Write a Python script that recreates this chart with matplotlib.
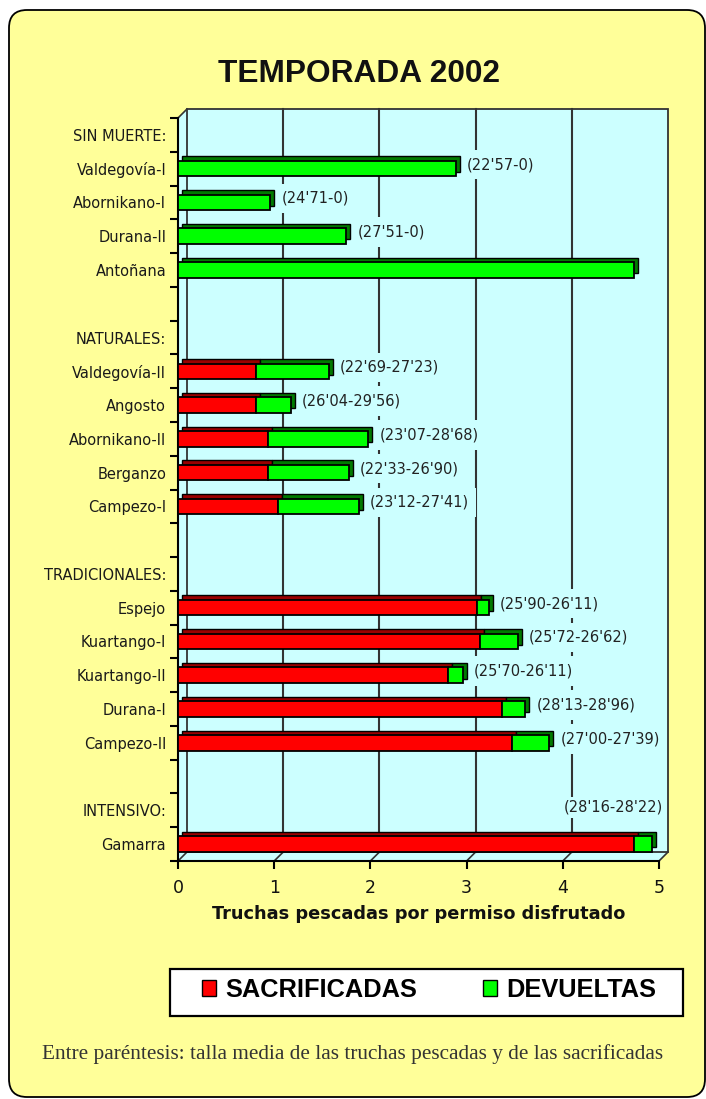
import numpy as np
import matplotlib.pyplot as plt
from matplotlib.patches import FancyBboxPatch, Rectangle, Polygon, Patch
from matplotlib.transforms import ScaledTranslation

# ---- datos ----
categorias = ["SIN MUERTE:", "Valdegovía-I", "Abornikano-I", "Durana-II", "Antoñana", "",
              "NATURALES:", "Valdegovía-II", "Angosto", "Abornikano-II", "Berganzo", "Campezo-I", "",
              "TRADICIONALES:", "Espejo", "Kuartango-I", "Kuartango-II", "Durana-I", "Campezo-II", "",
              "INTENSIVO:", "Gamarra"]
sacrificadas = [0, 0, 0, 0, 0, 0,
                0, 0.81, 0.81, 0.94, 0.94, 1.04, 0,
                0, 3.11, 3.14, 2.81, 3.37, 3.47, 0,
                0, 4.74]
devueltas = [0, 2.89, 0.96, 1.75, 4.74, 0,
             0, 0.76, 0.36, 1.04, 0.84, 0.84, 0,
             0, 0.12, 0.39, 0.15, 0.24, 0.39, 0,
             0, 0.19]
tallas = ["", "(22'57-0)", "(24'71-0)", "(27'51-0)", "", "",
          "", "(22'69-27'23)", "(26'04-29'56)", "(23'07-28'68)", "(22'33-26'90)", "(23'12-27'41)", "",
          "", "(25'90-26'11)", "(25'72-26'62)", "(25'70-26'11)", "(28'13-28'96)", "(27'00-27'39)", "",
          "", "(28'16-28'22)"]
ticks_x = [0, 1, 2, 3, 4, 5]
ETIQUETA_ARRIBA = {"Gamarra"}   # esta etiqueta va en la fila de encima

AMARILLO = '#ffff99'
CIAN = '#ccffff'
ROJO, ROJO_OSC = '#ff0000', '#9a0000'
VERDE, VERDE_OSC = '#00ff00', '#007a00'
GRIS = '#333333'

W, H = 706, 1099
fig = plt.figure(figsize=(W / 100, H / 100), dpi=100, facecolor='white')

# marco redondeado amarillo
marco = FancyBboxPatch((0.09, 0.02), 6.96, 10.87, boxstyle='round,pad=0,rounding_size=0.18',
                       transform=fig.dpi_scale_trans, fc=AMARILLO, ec='black', lw=1.3, zorder=-5)
fig.patches.append(marco)

# ejes = plano frontal del gráfico 3D
x0, x1, yt, yb = 178, 659, 118, 861
ax = fig.add_axes([x0 / W, 1 - yb / H, (x1 - x0) / W, (yb - yt) / H])
ax.patch.set_visible(False)
ax.set_xlim(0, 5)
ax.set_ylim(len(categorias) - 0.5, -0.5)

DX, DY = 9, 9  # profundidad en píxeles
atras = ScaledTranslation(DX / 100, DY / 100, fig.dpi_scale_trans)
ddx, ddy = DX / (x1 - x0), DY / (yb - yt)

# fondo cian (pared del fondo, pared izquierda y suelo)
fondo = Polygon([(0, 0), (0, 1), (ddx, 1 + ddy), (1 + ddx, 1 + ddy), (1 + ddx, ddy), (1, 0)],
                transform=ax.transAxes, fc=CIAN, ec='none', zorder=0, clip_on=False)
ax.add_patch(fondo)
ax.add_patch(Rectangle((0, 0), 1, 1, transform=ax.transAxes + atras, fill=False,
                       ec=GRIS, lw=1.3, zorder=2.6, clip_on=False))

# rejilla en la pared del fondo
tx_atras = ax.get_xaxis_transform() + atras
for v in ticks_x[1:-1]:
    ax.plot([v, v], [0, 1], transform=tx_atras, color=GRIS, lw=1.5, zorder=1, clip_on=False)

# diagonales de profundidad
ax.plot([0, ddx], [1, 1 + ddy], transform=ax.transAxes, color=GRIS, lw=1.2, clip_on=False, zorder=1)
for v in ticks_x:
    f = v / 5
    ax.plot([f, f + ddx], [0, ddy], transform=ax.transAxes, color=GRIS, lw=1.2,
            clip_on=False, zorder=1)

# barras 3D: primero la cara superior/lateral desplazada, luego la frontal
y = np.arange(len(categorias))
sac = np.array(sacrificadas)
dev = np.array(devueltas)
mr = sac > 0
mv = dev > 0
alto = 0.46
extr = ax.transData + ScaledTranslation(4 / 100, 4.5 / 100, fig.dpi_scale_trans)
ax.barh(y[mr], sac[mr], height=alto, color=ROJO_OSC, edgecolor='black', lw=1,
        transform=extr, zorder=3, clip_on=False)
ax.barh(y[mv], dev[mv], left=sac[mv], height=alto, color=VERDE_OSC, edgecolor='black', lw=1,
        transform=extr, zorder=3, clip_on=False)
ax.barh(y[mr], sac[mr], height=alto, color=ROJO, edgecolor='black', lw=1.3, zorder=4,
        clip_on=False, label='SACRIFICADAS')
ax.barh(y[mv], dev[mv], left=sac[mv], height=alto, color=VERDE, edgecolor='black', lw=1.3,
        zorder=4, clip_on=False, label='DEVUELTAS')

# tallas medias entre paréntesis (la caja cian tapa la rejilla, como en el original)
for i, t in enumerate(tallas):
    if not t:
        continue
    total = sac[i] + dev[i]
    if categorias[i] in ETIQUETA_ARRIBA:
        tr = ax.transData + ScaledTranslation(11 / 100, 3 / 100, fig.dpi_scale_trans)
        ax.text(total, i - 1, t, transform=tr, ha='right', va='center', fontsize=10.5,
                color='#222222', zorder=2.5,
                bbox=dict(boxstyle='square,pad=0.2', fc=CIAN, ec='none'))
    else:
        tr = ax.transData + ScaledTranslation(11 / 100, 4 / 100, fig.dpi_scale_trans)
        ax.text(total, i, t, transform=tr, ha='left', va='center', fontsize=10.5,
                color='#222222', zorder=2.5,
                bbox=dict(boxstyle='square,pad=0.5', fc=CIAN, ec='none'))

# ejes y marcas
for s in ['top', 'right']:
    ax.spines[s].set_visible(False)
for s in ['left', 'bottom']:
    ax.spines[s].set_linewidth(1.5)
    ax.spines[s].set_color('black')
ax.set_xticks(ticks_x)
ax.set_xticklabels([str(v) for v in ticks_x], fontsize=12.5, color='#111111')
ax.tick_params(axis='x', direction='out', length=6, width=1.5, pad=7)
ax.set_yticks(y)
ax.set_yticklabels(categorias, fontsize=10.5, color='#1a1a1a')
ax.set_yticks(np.arange(-0.5, len(categorias), 1), minor=True)
ax.tick_params(axis='y', which='major', length=0, pad=8.5)
ax.tick_params(axis='y', which='minor', direction='out', length=6, width=1.5)
ax.set_xlabel('Truchas pescadas por permiso disfrutado', fontsize=12.8, fontweight='bold',
              labelpad=6, color='#111111')

# título
fig.text(359 / W, 1 - 82 / H, 'TEMPORADA 2002', ha='center', va='baseline',
         fontsize=22.8, fontweight='bold', family='Liberation Sans', color='#111111')

# leyenda con marco propio
fig.patches.append(Rectangle((170 / W, 1 - 1016 / H), 513 / W, 47 / H, transform=fig.transFigure,
                             fc='white', ec='black', lw=1.6, zorder=-1))
manejos = [Patch(fc=ROJO, ec='black', lw=1), Patch(fc=VERDE, ec='black', lw=1)]
fig.legend(manejos, ['SACRIFICADAS', 'DEVUELTAS'], loc='center', ncol=2, frameon=False,
           bbox_to_anchor=(429 / W, 1 - 990 / H), handlelength=0.55, handleheight=0.55,
           handletextpad=0.35, columnspacing=2.6,
           prop=dict(family='Liberation Sans', weight='bold', size=18.3))

# nota al pie
fig.text(0.5, 1 - 1059 / H,
         'Entre paréntesis: talla media de las truchas pescadas y de las sacrificadas',
         ha='center', va='baseline', fontsize=15.3, family='Liberation Serif', color='#333333')

fig.savefig('out.png', dpi=100, facecolor='white')
